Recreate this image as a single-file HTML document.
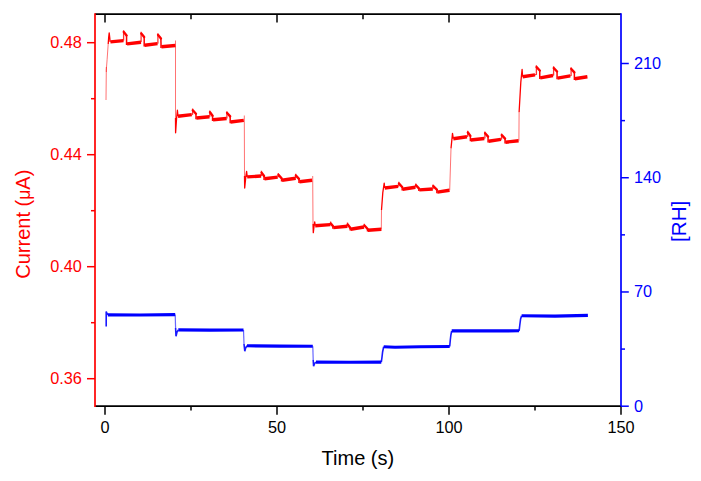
<!DOCTYPE html>
<html><head><meta charset="utf-8"><style>
html,body{margin:0;padding:0;background:#fff;}
body{width:701px;height:481px;overflow:hidden;font-family:"Liberation Sans",sans-serif;}
svg{display:block;}
</style></head><body>
<svg width="701" height="481" viewBox="0 0 701 481">
<rect width="701" height="481" fill="#fff"/>
<polyline points="106,100 106.3,70 107.1,59.7 108.2,44" fill="none" stroke="#ff0000" stroke-width="1.0" stroke-opacity="0.55"/>
<polyline points="106.3,72 106.3,67" fill="none" stroke="#ff0000" stroke-width="1.0" stroke-opacity="0.55"/>
<polyline points="175.5,40.5 175.5,118" fill="none" stroke="#ff0000" stroke-width="1.0" stroke-opacity="0.55"/>
<polyline points="244.3,115.5 244.5,176" fill="none" stroke="#ff0000" stroke-width="1.0" stroke-opacity="0.55"/>
<polyline points="312.7,176 313,224" fill="none" stroke="#ff0000" stroke-width="1.0" stroke-opacity="0.55"/>
<polyline points="381.3,229.3 381.5,210" fill="none" stroke="#ff0000" stroke-width="1.0" stroke-opacity="0.55"/>
<polyline points="449.7,190.3 451,148.4" fill="none" stroke="#ff0000" stroke-width="1.0" stroke-opacity="0.55"/>
<polyline points="518.9,140.7 519.1,112.3" fill="none" stroke="#ff0000" stroke-width="1.0" stroke-opacity="0.55"/>
<polyline points="108.2,44 108.7,37 109.2,32.8 109.8,38 110.1,42" fill="none" stroke="#ff0000" stroke-width="1.3" stroke-linejoin="round"/>
<polyline points="175.5,118 175.6,132.8 176.6,118 177.4,110.2 178,116.3" fill="none" stroke="#ff0000" stroke-width="1.3" stroke-linejoin="round"/>
<polyline points="244.5,176 244.7,188 245.9,176 246.6,171.4 247.2,176.9" fill="none" stroke="#ff0000" stroke-width="1.3" stroke-linejoin="round"/>
<polyline points="313,224 313.3,232.7 314.3,224 314.7,221.8 315.2,225.7" fill="none" stroke="#ff0000" stroke-width="1.3" stroke-linejoin="round"/>
<polyline points="381.5,210 382.8,192.6 384.2,183.1 384.7,188" fill="none" stroke="#ff0000" stroke-width="1.3" stroke-linejoin="round"/>
<polyline points="451,148.4 452.5,133.4 453.3,138.7" fill="none" stroke="#ff0000" stroke-width="1.3" stroke-linejoin="round"/>
<polyline points="519.1,112.3 520.8,82.4 522.1,69.3 522.6,76.8" fill="none" stroke="#ff0000" stroke-width="1.3" stroke-linejoin="round"/>
<polyline points="123.5,40.6 123.6,40.1 123.6,30.2" fill="none" stroke="#ff0000" stroke-width="1.3" stroke-opacity="0.8"/>
<polyline points="141,42.2 141.1,41.7 141.1,31.8" fill="none" stroke="#ff0000" stroke-width="1.3" stroke-opacity="0.8"/>
<polyline points="157.5,43.6 157.9,43.1 157.9,33.2" fill="none" stroke="#ff0000" stroke-width="1.3" stroke-opacity="0.8"/>
<polyline points="191.8,114.6 192.6,114.1 192.6,108.5" fill="none" stroke="#ff0000" stroke-width="1.3" stroke-opacity="0.8"/>
<polyline points="209.5,116.8 209.8,116.3 209.8,110.5" fill="none" stroke="#ff0000" stroke-width="1.3" stroke-opacity="0.8"/>
<polyline points="226.6,118.5 226.9,118 226.9,111.2" fill="none" stroke="#ff0000" stroke-width="1.3" stroke-opacity="0.8"/>
<polyline points="261.1,176 261.4,175.5 261.4,170.8" fill="none" stroke="#ff0000" stroke-width="1.3" stroke-opacity="0.8"/>
<polyline points="277.7,177.1 278.3,176.6 278.3,173.1" fill="none" stroke="#ff0000" stroke-width="1.3" stroke-opacity="0.8"/>
<polyline points="295.7,178.3 295.7,177.8 295.7,173.7" fill="none" stroke="#ff0000" stroke-width="1.3" stroke-opacity="0.8"/>
<polyline points="330.4,224.6 330.6,224.1 330.6,221.6" fill="none" stroke="#ff0000" stroke-width="1.3" stroke-opacity="0.8"/>
<polyline points="347.4,226.3 347.5,225.8 347.5,222.6" fill="none" stroke="#ff0000" stroke-width="1.3" stroke-opacity="0.8"/>
<polyline points="364,227 364.3,226.5 364.3,223.7" fill="none" stroke="#ff0000" stroke-width="1.3" stroke-opacity="0.8"/>
<polyline points="398.1,186.4 398.8,185.9 398.8,181.8" fill="none" stroke="#ff0000" stroke-width="1.3" stroke-opacity="0.8"/>
<polyline points="415.4,187.3 415.8,186.8 415.8,183.5" fill="none" stroke="#ff0000" stroke-width="1.3" stroke-opacity="0.8"/>
<polyline points="432.8,189 433.1,188.5 433.1,184.4" fill="none" stroke="#ff0000" stroke-width="1.3" stroke-opacity="0.8"/>
<polyline points="467,136.8 467.7,136.3 467.7,130.7" fill="none" stroke="#ff0000" stroke-width="1.3" stroke-opacity="0.8"/>
<polyline points="484.3,138.5 484.9,138 484.9,131.4" fill="none" stroke="#ff0000" stroke-width="1.3" stroke-opacity="0.8"/>
<polyline points="501,139.4 501.6,138.9 501.6,133.4" fill="none" stroke="#ff0000" stroke-width="1.3" stroke-opacity="0.8"/>
<polyline points="535,74.9 536.4,74.4 536.4,65.3" fill="none" stroke="#ff0000" stroke-width="1.3" stroke-opacity="0.8"/>
<polyline points="553,75.5 553.6,75 553.6,66.3" fill="none" stroke="#ff0000" stroke-width="1.3" stroke-opacity="0.8"/>
<polyline points="570.3,75.9 571.1,75.4 571.1,67.2" fill="none" stroke="#ff0000" stroke-width="1.3" stroke-opacity="0.8"/>
<polyline points="123.8,32 126.55,35.4" fill="none" stroke="#ff0000" stroke-width="2.4" stroke-linecap="round"/>
<polyline points="141.3,33.6 144.15,37" fill="none" stroke="#ff0000" stroke-width="2.4" stroke-linecap="round"/>
<polyline points="158.1,35 160.95,38.4" fill="none" stroke="#ff0000" stroke-width="2.4" stroke-linecap="round"/>
<polyline points="192.8,110.3 195.95,113.7" fill="none" stroke="#ff0000" stroke-width="2.4" stroke-linecap="round"/>
<polyline points="210,112.3 212.55,115.7" fill="none" stroke="#ff0000" stroke-width="2.4" stroke-linecap="round"/>
<polyline points="227.1,113 230.15,116.4" fill="none" stroke="#ff0000" stroke-width="2.4" stroke-linecap="round"/>
<polyline points="261.6,172.6 264.05,176" fill="none" stroke="#ff0000" stroke-width="2.4" stroke-linecap="round"/>
<polyline points="278.5,174.9 281.55,178.3" fill="none" stroke="#ff0000" stroke-width="2.4" stroke-linecap="round"/>
<polyline points="295.9,175.5 298.95,178.9" fill="none" stroke="#ff0000" stroke-width="2.4" stroke-linecap="round"/>
<polyline points="330.8,223.4 332.85,226.1" fill="none" stroke="#ff0000" stroke-width="2.4" stroke-linecap="round"/>
<polyline points="347.7,224.4 350.15,227.8" fill="none" stroke="#ff0000" stroke-width="2.4" stroke-linecap="round"/>
<polyline points="364.5,225.5 367.45,228.7" fill="none" stroke="#ff0000" stroke-width="2.4" stroke-linecap="round"/>
<polyline points="399,183.6 402.15,187" fill="none" stroke="#ff0000" stroke-width="2.4" stroke-linecap="round"/>
<polyline points="416,185.3 418.85,188.4" fill="none" stroke="#ff0000" stroke-width="2.4" stroke-linecap="round"/>
<polyline points="433.3,186.2 436.85,189.6" fill="none" stroke="#ff0000" stroke-width="2.4" stroke-linecap="round"/>
<polyline points="467.9,132.5 470.35,135.9" fill="none" stroke="#ff0000" stroke-width="2.4" stroke-linecap="round"/>
<polyline points="485.1,133.2 488.05,136.6" fill="none" stroke="#ff0000" stroke-width="2.4" stroke-linecap="round"/>
<polyline points="501.8,135.2 505.05,138.6" fill="none" stroke="#ff0000" stroke-width="2.4" stroke-linecap="round"/>
<polyline points="536.6,67.1 539.75,70.5" fill="none" stroke="#ff0000" stroke-width="2.4" stroke-linecap="round"/>
<polyline points="553.8,68.1 557.05,71.5" fill="none" stroke="#ff0000" stroke-width="2.4" stroke-linecap="round"/>
<polyline points="571.3,69 574.35,72.4" fill="none" stroke="#ff0000" stroke-width="2.4" stroke-linecap="round"/>
<polyline points="126.55,34.9 126.6,45.1" fill="none" stroke="#ff0000" stroke-width="1.5"/>
<polyline points="144.15,36.5 144.2,46.5" fill="none" stroke="#ff0000" stroke-width="1.5"/>
<polyline points="160.95,37.9 161,48" fill="none" stroke="#ff0000" stroke-width="1.5"/>
<polyline points="195.95,113.2 196,119.2" fill="none" stroke="#ff0000" stroke-width="1.5"/>
<polyline points="212.55,115.2 212.6,120.9" fill="none" stroke="#ff0000" stroke-width="1.5"/>
<polyline points="230.15,115.9 230.2,123.2" fill="none" stroke="#ff0000" stroke-width="1.5"/>
<polyline points="264.05,175.5 264.1,180" fill="none" stroke="#ff0000" stroke-width="1.5"/>
<polyline points="281.55,177.8 281.6,181.5" fill="none" stroke="#ff0000" stroke-width="1.5"/>
<polyline points="298.95,178.4 299,182.9" fill="none" stroke="#ff0000" stroke-width="1.5"/>
<polyline points="332.85,225.6 332.9,228.8" fill="none" stroke="#ff0000" stroke-width="1.5"/>
<polyline points="350.15,227.3 350.2,230.5" fill="none" stroke="#ff0000" stroke-width="1.5"/>
<polyline points="367.45,228.2 367.5,231.4" fill="none" stroke="#ff0000" stroke-width="1.5"/>
<polyline points="402.15,186.5 402.2,190.5" fill="none" stroke="#ff0000" stroke-width="1.5"/>
<polyline points="418.85,187.9 418.9,191.1" fill="none" stroke="#ff0000" stroke-width="1.5"/>
<polyline points="436.85,189.1 436.9,193.3" fill="none" stroke="#ff0000" stroke-width="1.5"/>
<polyline points="470.35,135.4 470.4,141.2" fill="none" stroke="#ff0000" stroke-width="1.5"/>
<polyline points="488.05,136.1 488.1,142.5" fill="none" stroke="#ff0000" stroke-width="1.5"/>
<polyline points="505.05,138.1 505.1,143.4" fill="none" stroke="#ff0000" stroke-width="1.5"/>
<polyline points="539.75,70 539.8,79" fill="none" stroke="#ff0000" stroke-width="1.5"/>
<polyline points="557.05,71 557.1,79.3" fill="none" stroke="#ff0000" stroke-width="1.5"/>
<polyline points="574.35,71.9 574.4,79.9" fill="none" stroke="#ff0000" stroke-width="1.5"/>
<polyline points="110.4,41.9 123.5,40.6" fill="none" stroke="#ff0000" stroke-width="3.4" stroke-linecap="butt"/>
<polyline points="127,43.9 141,42.2" fill="none" stroke="#ff0000" stroke-width="3.4" stroke-linecap="butt"/>
<polyline points="144.6,45.3 157.5,43.6" fill="none" stroke="#ff0000" stroke-width="3.4" stroke-linecap="butt"/>
<polyline points="161.4,46.8 175.4,45.5" fill="none" stroke="#ff0000" stroke-width="3.4" stroke-linecap="butt"/>
<polyline points="178,116.3 191.8,114.6" fill="none" stroke="#ff0000" stroke-width="3.4" stroke-linecap="butt"/>
<polyline points="196.4,118 209.5,116.8" fill="none" stroke="#ff0000" stroke-width="3.4" stroke-linecap="butt"/>
<polyline points="213,119.7 226.6,118.5" fill="none" stroke="#ff0000" stroke-width="3.4" stroke-linecap="butt"/>
<polyline points="230.6,122 243.8,120.4" fill="none" stroke="#ff0000" stroke-width="3.4" stroke-linecap="butt"/>
<polyline points="247.2,176.9 261.1,176" fill="none" stroke="#ff0000" stroke-width="3.4" stroke-linecap="butt"/>
<polyline points="264.5,178.8 277.7,177.1" fill="none" stroke="#ff0000" stroke-width="3.4" stroke-linecap="butt"/>
<polyline points="282,180.3 295.7,178.3" fill="none" stroke="#ff0000" stroke-width="3.4" stroke-linecap="butt"/>
<polyline points="299.4,181.7 312.1,180.3" fill="none" stroke="#ff0000" stroke-width="3.4" stroke-linecap="butt"/>
<polyline points="315.2,225.7 330.4,224.6" fill="none" stroke="#ff0000" stroke-width="3.4" stroke-linecap="butt"/>
<polyline points="333.3,227.6 347.4,226.3" fill="none" stroke="#ff0000" stroke-width="3.4" stroke-linecap="butt"/>
<polyline points="350.6,229.3 364,227" fill="none" stroke="#ff0000" stroke-width="3.4" stroke-linecap="butt"/>
<polyline points="367.9,230.2 381.4,229.3" fill="none" stroke="#ff0000" stroke-width="3.4" stroke-linecap="butt"/>
<polyline points="384.7,188 398.1,186.4" fill="none" stroke="#ff0000" stroke-width="3.4" stroke-linecap="butt"/>
<polyline points="402.6,189.3 415.4,187.3" fill="none" stroke="#ff0000" stroke-width="3.4" stroke-linecap="butt"/>
<polyline points="419.3,189.9 432.8,189" fill="none" stroke="#ff0000" stroke-width="3.4" stroke-linecap="butt"/>
<polyline points="437.3,192.1 449.5,190.3" fill="none" stroke="#ff0000" stroke-width="3.4" stroke-linecap="butt"/>
<polyline points="453.3,138.7 467,136.8" fill="none" stroke="#ff0000" stroke-width="3.4" stroke-linecap="butt"/>
<polyline points="470.8,140 484.3,138.5" fill="none" stroke="#ff0000" stroke-width="3.4" stroke-linecap="butt"/>
<polyline points="488.5,141.3 501,139.4" fill="none" stroke="#ff0000" stroke-width="3.4" stroke-linecap="butt"/>
<polyline points="505.5,142.2 518.6,140.7" fill="none" stroke="#ff0000" stroke-width="3.4" stroke-linecap="butt"/>
<polyline points="522.6,76.8 535,74.9" fill="none" stroke="#ff0000" stroke-width="3.4" stroke-linecap="butt"/>
<polyline points="540.2,77.8 553,75.5" fill="none" stroke="#ff0000" stroke-width="3.4" stroke-linecap="butt"/>
<polyline points="557.5,78.1 570.3,75.9" fill="none" stroke="#ff0000" stroke-width="3.4" stroke-linecap="butt"/>
<polyline points="574.8,78.7 587.4,76.8" fill="none" stroke="#ff0000" stroke-width="3.4" stroke-linecap="butt"/>
<polyline points="175.2,314.6 175.6,328" fill="none" stroke="#0000ff" stroke-width="1.2" stroke-opacity="0.6"/>
<polyline points="243.5,330 244,344" fill="none" stroke="#0000ff" stroke-width="1.2" stroke-opacity="0.6"/>
<polyline points="312.8,346.2 313.2,360" fill="none" stroke="#0000ff" stroke-width="1.2" stroke-opacity="0.6"/>
<polyline points="106.2,326.6 106.2,311.6 107,313.5 107.8,314.9" fill="none" stroke="#0000ff" stroke-width="1.6" stroke-opacity="0.9"/>
<polyline points="175.6,328 176,336.2 177,332 178.3,329.9" fill="none" stroke="#0000ff" stroke-width="1.6" stroke-opacity="0.9"/>
<polyline points="244,344 244.8,351.2 245.6,348 247,345.8" fill="none" stroke="#0000ff" stroke-width="1.6" stroke-opacity="0.9"/>
<polyline points="313.2,360 313.6,366.2 314.6,363.5 316,362.1" fill="none" stroke="#0000ff" stroke-width="1.6" stroke-opacity="0.9"/>
<polyline points="381.3,362.1 381.9,358 382.6,352 383.7,346.7" fill="none" stroke="#0000ff" stroke-width="1.6" stroke-opacity="0.9"/>
<polyline points="449.7,346.5 450.3,340 450.9,335 451.7,331" fill="none" stroke="#0000ff" stroke-width="1.6" stroke-opacity="0.9"/>
<polyline points="519.1,330.8 519.8,325 520.6,319 521.6,315.8" fill="none" stroke="#0000ff" stroke-width="1.6" stroke-opacity="0.9"/>
<polyline points="107.8,314.9 140,315 175.2,314.6" fill="none" stroke="#0000ff" stroke-width="3.1"/>
<polyline points="178.3,329.9 210,330.1 243.5,330" fill="none" stroke="#0000ff" stroke-width="3.1"/>
<polyline points="247,345.8 280,346.1 312.8,346.2" fill="none" stroke="#0000ff" stroke-width="3.1"/>
<polyline points="316,362.1 350,362.2 381.3,362.1" fill="none" stroke="#0000ff" stroke-width="3.1"/>
<polyline points="383.7,346.7 395,347.2 420,346.7 449.7,346.5" fill="none" stroke="#0000ff" stroke-width="3.1"/>
<polyline points="451.7,330.9 485,330.9 519.1,330.8" fill="none" stroke="#0000ff" stroke-width="3.1"/>
<polyline points="521.6,315.8 555,316.1 587.9,315.4" fill="none" stroke="#0000ff" stroke-width="3.1"/>
<line x1="95.0" y1="14.2" x2="621.0" y2="14.2" stroke="#000000" stroke-width="1.7"/>
<line x1="95.0" y1="406.2" x2="621.0" y2="406.2" stroke="#000000" stroke-width="1.7"/>
<line x1="95.0" y1="13.35" x2="95.0" y2="407.05" stroke="#ff0000" stroke-width="1.7"/>
<line x1="621.0" y1="13.35" x2="621.0" y2="407.05" stroke="#0000ff" stroke-width="1.7"/>
<line x1="105" y1="406.2" x2="105" y2="414.7" stroke="#000000" stroke-width="1.5"/>
<line x1="105" y1="14.2" x2="105" y2="22.5" stroke="#000000" stroke-width="1.5"/>
<line x1="277" y1="406.2" x2="277" y2="414.7" stroke="#000000" stroke-width="1.5"/>
<line x1="277" y1="14.2" x2="277" y2="22.5" stroke="#000000" stroke-width="1.5"/>
<line x1="449" y1="406.2" x2="449" y2="414.7" stroke="#000000" stroke-width="1.5"/>
<line x1="449" y1="14.2" x2="449" y2="22.5" stroke="#000000" stroke-width="1.5"/>
<line x1="621" y1="406.2" x2="621" y2="414.7" stroke="#000000" stroke-width="1.5"/>
<line x1="191" y1="406.2" x2="191" y2="410.5" stroke="#000000" stroke-width="1.5"/>
<line x1="191" y1="14.2" x2="191" y2="19.2" stroke="#000000" stroke-width="1.5"/>
<line x1="363" y1="406.2" x2="363" y2="410.5" stroke="#000000" stroke-width="1.5"/>
<line x1="363" y1="14.2" x2="363" y2="19.2" stroke="#000000" stroke-width="1.5"/>
<line x1="535" y1="406.2" x2="535" y2="410.5" stroke="#000000" stroke-width="1.5"/>
<line x1="535" y1="14.2" x2="535" y2="19.2" stroke="#000000" stroke-width="1.5"/>
<line x1="87.0" y1="42.7" x2="95.0" y2="42.7" stroke="#ff0000" stroke-width="1.5"/>
<line x1="87.0" y1="154.7" x2="95.0" y2="154.7" stroke="#ff0000" stroke-width="1.5"/>
<line x1="87.0" y1="266.7" x2="95.0" y2="266.7" stroke="#ff0000" stroke-width="1.5"/>
<line x1="87.0" y1="378.7" x2="95.0" y2="378.7" stroke="#ff0000" stroke-width="1.5"/>
<line x1="91.0" y1="98.7" x2="95.0" y2="98.7" stroke="#ff0000" stroke-width="1.5"/>
<line x1="91.0" y1="210.7" x2="95.0" y2="210.7" stroke="#ff0000" stroke-width="1.5"/>
<line x1="91.0" y1="322.7" x2="95.0" y2="322.7" stroke="#ff0000" stroke-width="1.5"/>
<line x1="621.0" y1="406.2" x2="628.8" y2="406.2" stroke="#0000ff" stroke-width="1.5"/>
<line x1="621.0" y1="291.97" x2="628.8" y2="291.97" stroke="#0000ff" stroke-width="1.5"/>
<line x1="621.0" y1="177.73" x2="628.8" y2="177.73" stroke="#0000ff" stroke-width="1.5"/>
<line x1="621.0" y1="63.5" x2="628.8" y2="63.5" stroke="#0000ff" stroke-width="1.5"/>
<line x1="621.0" y1="349.08" x2="625.0" y2="349.08" stroke="#0000ff" stroke-width="1.5"/>
<line x1="621.0" y1="234.85" x2="625.0" y2="234.85" stroke="#0000ff" stroke-width="1.5"/>
<line x1="621.0" y1="120.62" x2="625.0" y2="120.62" stroke="#0000ff" stroke-width="1.5"/>
<text x="81.95" y="47.6" fill="#ff0000" font-size="16.3" text-anchor="end" font-family="&apos;Liberation Sans&apos;, sans-serif">0.48</text>
<text x="81.95" y="159.6" fill="#ff0000" font-size="16.3" text-anchor="end" font-family="&apos;Liberation Sans&apos;, sans-serif">0.44</text>
<text x="81.95" y="271.6" fill="#ff0000" font-size="16.3" text-anchor="end" font-family="&apos;Liberation Sans&apos;, sans-serif">0.40</text>
<text x="81.95" y="383.6" fill="#ff0000" font-size="16.3" text-anchor="end" font-family="&apos;Liberation Sans&apos;, sans-serif">0.36</text>
<text x="634.0" y="411.5" fill="#0000ff" font-size="16.3" text-anchor="start" font-family="&apos;Liberation Sans&apos;, sans-serif">0</text>
<text x="634.0" y="297.27" fill="#0000ff" font-size="16.3" text-anchor="start" font-family="&apos;Liberation Sans&apos;, sans-serif">70</text>
<text x="634.0" y="183.03" fill="#0000ff" font-size="16.3" text-anchor="start" font-family="&apos;Liberation Sans&apos;, sans-serif">140</text>
<text x="634.0" y="68.8" fill="#0000ff" font-size="16.3" text-anchor="start" font-family="&apos;Liberation Sans&apos;, sans-serif">210</text>
<text x="105" y="432.9" fill="#000000" font-size="16.3" text-anchor="middle" font-family="&apos;Liberation Sans&apos;, sans-serif">0</text>
<text x="277" y="432.9" fill="#000000" font-size="16.3" text-anchor="middle" font-family="&apos;Liberation Sans&apos;, sans-serif">50</text>
<text x="449" y="432.9" fill="#000000" font-size="16.3" text-anchor="middle" font-family="&apos;Liberation Sans&apos;, sans-serif">100</text>
<text x="621" y="432.9" fill="#000000" font-size="16.3" text-anchor="middle" font-family="&apos;Liberation Sans&apos;, sans-serif">150</text>
<text x="357.9" y="465.0" fill="#000000" font-size="20" text-anchor="middle" font-family="&apos;Liberation Sans&apos;, sans-serif">Time (s)</text>
<text transform="translate(30.3,224.2) rotate(-90)" x="0" y="0" fill="#ff0000" font-size="20" text-anchor="middle" font-family="&apos;Liberation Sans&apos;, sans-serif">Current (<tspan font-size="17.5">μ</tspan>A)</text>
<text transform="translate(685.8,221.3) rotate(-90)" x="0" y="0" fill="#0000ff" font-size="20.6" text-anchor="middle" font-family="&apos;Liberation Sans&apos;, sans-serif">[RH]</text>
</svg>
</body></html>
